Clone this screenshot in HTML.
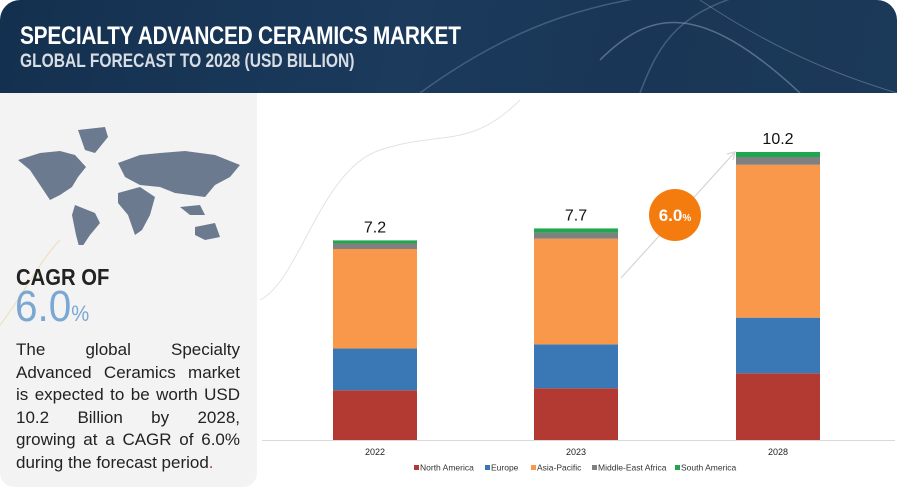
<!DOCTYPE html>
<html><head><meta charset="utf-8"><style>
body{margin:0;width:900px;height:496px;background:#fff;position:relative;overflow:hidden;font-family:"Liberation Sans",sans-serif}
#hdr{position:absolute;left:0;top:0;width:897px;height:93px;border-radius:20px 20px 0 0;background:linear-gradient(100deg,#14304f 0%,#1b3a5c 45%,#1a3656 70%,#1b3958 100%);overflow:hidden}
#t1{position:absolute;left:20px;top:22px;color:#fff;font-weight:bold;font-size:25px;transform:scaleX(0.835);transform-origin:left;white-space:nowrap;letter-spacing:-0.3px}
#t2{position:absolute;left:20px;top:51px;color:#d8dde4;font-weight:bold;font-size:19px;transform:scaleX(0.82);transform-origin:left;white-space:nowrap}
#left{position:absolute;left:0;top:93px;width:257px;height:394px;background:#f3f3f3;border-radius:0 0 14px 14px}
#cagr1{position:absolute;left:16px;top:264px;font-size:23px;font-weight:bold;color:#222;transform:scaleX(0.88);transform-origin:left}
#cagr2{position:absolute;left:15px;top:282px;font-size:44px;color:#7ba7d4;transform:scaleX(0.92);transform-origin:left}
#cagr2 span{font-size:22px}
#desc{position:absolute;left:16px;top:339px;width:224px;font-size:17px;line-height:22.6px;color:#222}
#desc div{text-align:justify;text-align-last:justify;white-space:nowrap}
#desc div.last{text-align-last:left}
</style></head><body>
<div id="hdr">
<svg width="897" height="93" style="position:absolute;left:0;top:0">
<path d="M420 93 C520 20 600 0 700 -10" stroke="#5d7898" stroke-width="1.5" fill="none" opacity=".6"/>
<path d="M640 93 C660 40 680 10 760 -10" stroke="#5d7898" stroke-width="1.5" fill="none" opacity=".6"/>
<path d="M600 60 C650 10 700 0 800 93" stroke="#7f93ad" stroke-width="1.5" fill="none" opacity=".6"/>
<path d="M700 0 C760 40 820 70 897 93" stroke="#7f93ad" stroke-width="1" fill="none" opacity=".5"/>
</svg>
<div id="t1">SPECIALTY ADVANCED CERAMICS MARKET</div>
<div id="t2">GLOBAL FORECAST TO 2028 (USD BILLION)</div>
</div>
<div id="left"></div>
<svg width="260" height="130" style="position:absolute;left:0;top:115px">
<g fill="#6b7a8f">
<path d="M18 45 L40 38 L60 36 L75 40 L86 52 L78 62 L72 72 L60 80 L50 85 L40 70 L30 55 Z"/>
<path d="M78 15 L105 12 L108 22 L95 38 L85 35 Z"/>
<path d="M75 90 L95 98 L100 108 L90 120 L80 135 L76 120 L72 100 Z"/>
<path d="M118 48 L140 40 L160 38 L185 36 L215 40 L240 50 L230 62 L215 70 L205 82 L190 80 L175 78 L160 72 L140 70 L125 62 Z"/>
<path d="M118 78 L140 72 L155 82 L150 100 L142 115 L135 120 L128 100 L118 88 Z"/>
<path d="M195 112 L215 108 L220 122 L205 125 L195 120 Z"/>
<path d="M180 92 L200 90 L205 100 L190 100 Z"/>
</g></svg>
<svg width="260" height="496" style="position:absolute;left:0;top:0">
<path d="M0 325 C20 300 40 260 60 240" stroke="#f0c870" fill="none" opacity=".5"/>
</svg>
<div id="cagr1">CAGR OF</div>
<div id="cagr2">6.0<span>%</span></div>
<div id="desc">
<div>The global Specialty</div>
<div>Advanced Ceramics market</div>
<div>is expected to be worth USD</div>
<div>10.2 Billion by 2028,</div>
<div>growing at a CAGR of 6.0%</div>
<div class="last">during the forecast period<span style="color:#c0392b">.</span></div>
</div>
<svg id="chart" width="900" height="496" style="position:absolute;left:0;top:0"></svg>
<script>
const categories=["2022","2023","2028"];
const totals=["7.2","7.7","10.2"];
const northAmerica=[1.79,1.86,2.4];
const europe=[1.5,1.58,2.0];
const asiaPacific=[3.58,3.8,5.5];
const middleEastAfrica=[0.2,0.22,0.28];
const southAmerica=[0.11,0.15,0.18];
const seriesNames=["North America","Europe","Asia-Pacific","Middle-East Africa","South America"];
const seriesColors=["#b33a32","#3a78b5","#f9984a","#808080","#1fa64e"];
const series=[northAmerica,europe,asiaPacific,middleEastAfrica,southAmerica];
const NS="http://www.w3.org/2000/svg";
const svg=document.getElementById('chart');
const base=440,scale=27.8,barW=84;
const xc=i=>[375,576,778][i];
const y=v=>base-v*scale;
function mk(t,a){const e=document.createElementNS(NS,t);for(const k in a)e.setAttribute(k,a[k]);svg.appendChild(e);return e;}
const deco=mk('path',{d:"M260 300 C300 280 320 170 380 150 C440 130 470 150 520 100",stroke:"#e3e3e3",fill:"none"});


const ax=mk('line',{x1:262,x2:895,y1:base+0.5,y2:base+0.5,stroke:"#d9d9d9"});


categories.forEach((c,i)=>{
  let acc=0;
  series.forEach((s,j)=>{
    const r=mk('rect',{x:xc(i)-barW/2,y:y(acc+s[i]),width:barW,height:s[i]*scale,fill:seriesColors[j]});
    
    
    acc+=s[i];
  });
  const t=mk('text',{x:xc(i),y:y(acc)-8,'text-anchor':'middle','font-size':16,fill:'#111'});
  t.textContent=totals[i];
  
  
  const l=mk('text',{x:xc(i),y:base+15,'text-anchor':'middle','font-size':9,fill:'#222'});
  l.textContent=c;
  
  
});
const arr=mk('path',{d:"M621 278 L735 152 M727 154 L735 152 L733 160",stroke:"#d5d5d5",fill:"none","stroke-width":1.2});


const circ=mk('circle',{cx:675,cy:215,r:26,fill:"#f47c0f"});


const ct=mk('text',{x:675,y:221,'text-anchor':'middle','font-size':17,'font-weight':'bold',fill:'#fff'});
ct.innerHTML='6.0<tspan font-size="10">%</tspan>';


const lx=[420,491,537,598,681];
seriesNames.forEach((n,j)=>{
  const r=mk('rect',{x:lx[j]-6,y:465,width:5,height:5,fill:seriesColors[j]});
  
  
  const t=mk('text',{x:lx[j],y:470.5,'font-size':8.5,fill:'#333'});
  t.textContent=n;
  
  
});
</script>
</body></html>
